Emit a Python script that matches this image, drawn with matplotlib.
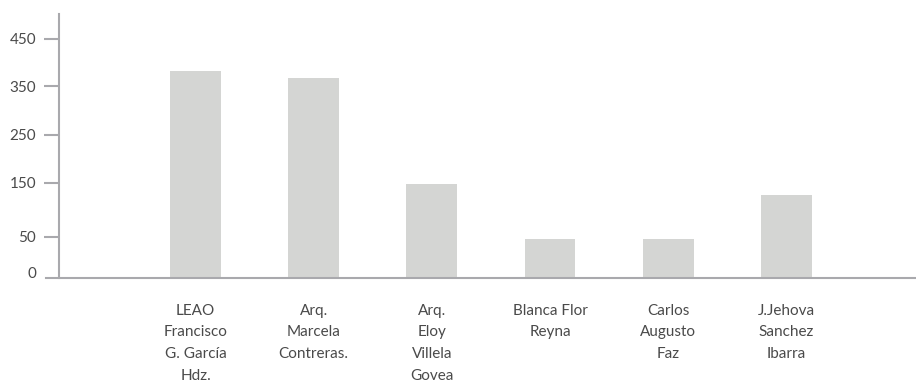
import matplotlib
matplotlib.use("Agg")
import matplotlib.pyplot as plt
import matplotlib.transforms as mtransforms
import numpy as np

# data
nombres = ["LEAO\nFrancisco\nG. García\nHdz.", "Arq.\nMarcela\nContreras.",
           "Arq.\nEloy\nVillela\nGovea", "Blanca Flor\nReyna",
           "Carlos\nAugusto\nFaz", "J.Jehova\nSanchez\nIbarra"]
valores = [382, 367, 148, 48, 48, 128]
yticks = [0, 50, 150, 250, 350, 450]

# the original axis is not linear: piecewise scale through the tick marks
escala_v = [0, 50, 150, 250, 350, 450, 500]
escala_px = [0, 41, 95, 143, 192, 239, 264]

def fwd(y):
    return np.interp(y, escala_v, escala_px)

def inv(t):
    return np.interp(t, escala_px, escala_v)

gris = "#a9a9ad"
texto = "#4a4a4a"
plt.rcParams['font.family'] = ['Lato', 'DejaVu Sans']

fig = plt.figure(figsize=(9.16, 3.84), dpi=100)
ax = fig.add_axes([46 / 916, 106 / 384, 870 / 916, 264 / 384])

x = np.arange(len(valores))
ax.bar(x, valores, width=0.43, color="#d4d5d3", zorder=2)

ax.set_yscale('function', functions=(fwd, inv))
ax.set_ylim(0, 500)
ax.set_xlim(-1.265, 6.096)

for s in ["top", "right"]:
    ax.spines[s].set_visible(False)
ax.spines["left"].set_position(("data", -1.155))
ax.spines["left"].set_color(gris)
ax.spines["bottom"].set_color(gris)
ax.spines["left"].set_linewidth(1.5)
ax.spines["bottom"].set_linewidth(1.5)

ax.set_yticks(yticks)
ax.set_yticklabels([str(v) for v in yticks])
ax.tick_params(axis="y", length=11, width=1.5, color=gris, pad=5.5,
               labelsize=11, labelcolor=texto)
ax.set_xticks(x)
ax.set_xticklabels(nombres, linespacing=1.7)
ax.tick_params(axis="x", length=0, pad=18.5, labelsize=11, labelcolor=texto)

# "0" has no tick mark and sits a bit above the baseline
t0 = ax.yaxis.get_major_ticks()[0]
t0.tick1line.set_visible(False)
t0.label1.set_transform(t0.label1.get_transform() +
                        mtransforms.ScaledTranslation(0, 5 / 100, fig.dpi_scale_trans))

fig.savefig("out.png", dpi=100)
